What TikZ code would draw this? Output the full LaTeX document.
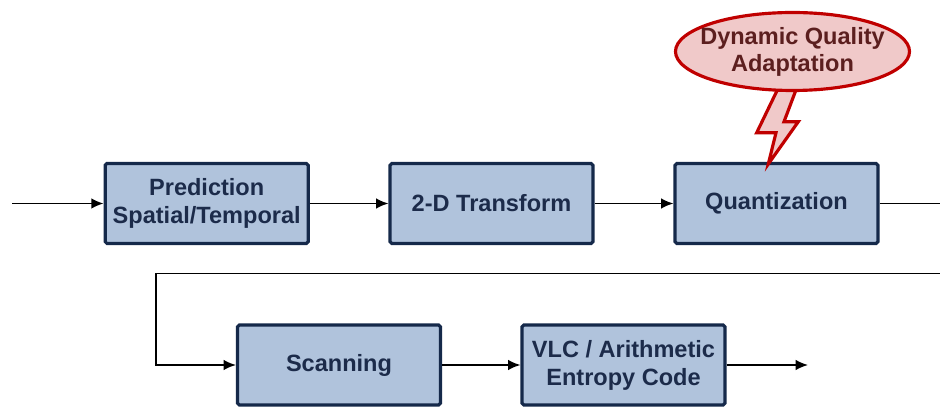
\documentclass[tikz,border=0pt]{standalone}
\usepackage{fontspec}
\setmainfont{Liberation Sans}
\usepackage{tikz}
\usetikzlibrary{arrows.meta,shapes.geometric}

\definecolor{BoxFill}{HTML}{B0C3DC}
\definecolor{BoxLine}{HTML}{15294A}
\definecolor{BoxText}{HTML}{1C2B4A}
\definecolor{CallFill}{HTML}{F0C9C9}
\definecolor{CallLine}{HTML}{C00000}
\definecolor{CallText}{HTML}{5C1F1F}

\begin{document}
\begin{tikzpicture}[x=0.02cm,y=-0.02cm]
		\tikzstyle{every path}=[line width=1pt]
		\tikzstyle{FlowSty}=[-{Latex[length=7pt,width=6pt]}]

		\tikzstyle{procbox}=[draw=BoxLine,fill=BoxFill,
								  line width=1.8pt,
								  minimum width=4.06cm,
								  minimum height=1.6cm,
								  rounded corners=1pt,
								  align=center,
								  text=BoxText,
								  font=\fontsize{13.4}{15.9}\selectfont\bfseries]
		\tikzstyle{callout}=[ellipse,draw=CallLine,fill=CallFill,
								  line width=1.8pt,
								  inner xsep=-0.19cm,
								  inner ysep=0pt,
								  minimum height=1.56cm,
								  align=center,
								  text=CallText,
								  font=\fontsize{13.4}{15.4}\selectfont\bfseries]

\useasboundingbox (0,0) rectangle (940,408);

% top row
	\node [procbox] at (206.7,203.5) (pred) {Prediction\\Spatial/Temporal};
	\node [procbox] at (491.5,203.5) (trans) {2-D Transform};
	\node [procbox] at (776.5,203.5) (quant) {Quantization};

% bottom row
	\node [procbox] at (339,365) (scan) {Scanning};
	\node [procbox] at (623.5,365) (vlc) {VLC / Arithmetic\\Entropy Code};

% lightning and callout
	\draw [draw=CallLine,fill=CallFill,line width=1.8pt,line join=miter]
		(778.3,88) -- (756.7,132.7) -- (776,132.7) -- (768.3,164)
		-- (798.3,121.7) -- (784,121.7) -- (796.7,88) -- cycle;
	\node [callout] at (792.5,51.5) (dqa) {Dynamic Quality\\Adaptation};

	\coordinate (src) at (12,203.5);
	\coordinate (sink) at (808,365);
	\coordinate (turnA) at (950,203.5);
	\coordinate (turnB) at (156,273.5);

	\path[FlowSty] (src) edge (pred);
	\path[FlowSty] (pred) edge (trans);
	\path[FlowSty] (trans) edge (quant);
	\draw[FlowSty] (quant) -- (turnA) |- (turnB) |- (scan);
	\path[FlowSty] (scan) edge (vlc);
	\path[FlowSty] (vlc) edge (sink);

\end{tikzpicture}
\end{document}
